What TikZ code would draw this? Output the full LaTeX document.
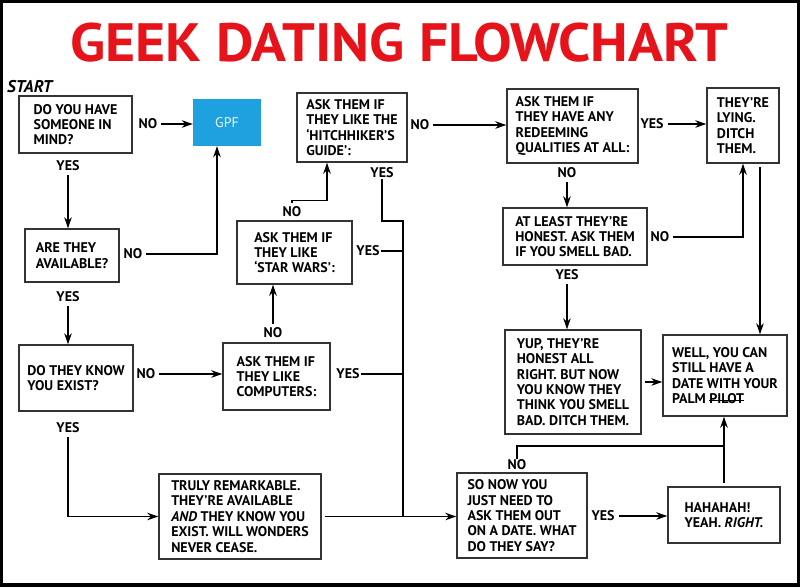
\documentclass[tikz,border=0pt]{standalone}
\usepackage{fontspec}
\setmainfont{PT Sans}
\usetikzlibrary{arrows.meta}

\definecolor{gpfblue}{RGB}{30,161,222}
\definecolor{titlered}{RGB}{230,20,26}

\newcommand\scratched[1]{\setbox0\hbox{#1}\rlap{\rule[0.35ex]{\wd0}{1.2pt}}\box0}

\tikzset{
  box/.style={draw=black!80, line width=1.4pt, fill=white, align=left,
    font=\bfseries\fontsize{14}{15.4}\selectfont, inner xsep=4pt, inner ysep=5pt},
  lbl/.style={font=\bfseries\fontsize{14}{15.4}\selectfont, inner sep=1pt},
  arr/.style={-{Stealth[length=11pt,width=7.5pt]}, line width=1.3pt, shorten <=3pt},
  link/.style={line width=1.3pt}
}

\begin{document}
\begin{tikzpicture}[x=1pt,y=-1pt]

\fill[black] (0,0) rectangle (800,587);
\fill[white] (3,3) rectangle (797,583);
\useasboundingbox (0,0) rectangle (800,587);

\node[text=titlered, font=\bfseries\fontsize{54}{54}\selectfont, xscale=1.07, transform shape] (title) at (399,43) {GEEK DATING FLOWCHART};
\node[anchor=west, font=\bfseries\itshape\fontsize{17}{17}\selectfont, inner sep=0pt] (start) at (7,87) {START};

% left column
\node[box, minimum width=113, minimum height=57] (have) at (75.5,124.5) {DO YOU HAVE\\SOMEONE IN\\MIND?};
\node[fill=gpfblue, minimum width=68, minimum height=47, text=white!90!gpfblue, font=\fontsize{14}{14}\selectfont] (gpf) at (227,122.5) {GPF};
\node[box, minimum width=94, minimum height=53] (avail) at (72,255.5) {ARE THEY\\AVAILABLE?};
\node[box, minimum width=114, minimum height=66] (exist) at (76,378) {DO THEY KNOW\\YOU EXIST?};
\node[box, minimum width=162, minimum height=85] (truly) at (240,516.5) {TRULY REMARKABLE.\\THEY’RE AVAILABLE\\\textit{AND} THEY KNOW YOU\\EXIST. WILL WONDERS\\NEVER CEASE.};

% middle column
\node[box, minimum width=107, minimum height=67] (comp) at (276.5,376.5) {ASK THEM IF\\THEY LIKE\\COMPUTERS:};
\node[box, minimum width=115, minimum height=63] (star) at (294.5,252.5) {ASK THEM IF\\THEY LIKE\\‘STAR WARS’:};
\node[box, minimum width=110, minimum height=69] (hitch) at (352,127.5) {ASK THEM IF\\THEY LIKE THE\\‘HITCHHIKER’S\\GUIDE’:};

% right columns
\node[box, minimum width=131, minimum height=74] (redeem) at (572.5,126) {ASK THEM IF\\THEY HAVE ANY\\REDEEMING\\QUALITIES AT ALL:};
\node[box, minimum width=72, minimum height=75] (lying) at (743,125.5) {THEY’RE\\LYING.\\DITCH\\THEM.};
\node[box, minimum width=144, minimum height=57] (honest) at (575,236.5) {AT LEAST THEY’RE\\HONEST. ASK THEM\\IF YOU SMELL BAD.};
\node[box, minimum width=136, minimum height=104] (yup) at (573,382) {YUP, THEY’RE\\HONEST ALL\\RIGHT. BUT NOW\\YOU KNOW THEY\\THINK YOU SMELL\\BAD. DITCH THEM.};
\node[box, minimum width=124, minimum height=81] (palm) at (725,375.5) {WELL, YOU CAN\\STILL HAVE A\\DATE WITH YOUR\\PALM \scratched{PILOT}};
\node[box, minimum width=130, minimum height=85] (askout) at (522,515.5) {SO NOW YOU\\JUST NEED TO\\ASK THEM OUT\\ON A DATE. WHAT\\DO THEY SAY?};
\node[box, minimum width=112, minimum height=56] (haha) at (724,515) {HAHAHAH!\\YEAH. \textit{RIGHT.}};

% labels
\node[lbl] (no1) at (148,124) {NO};
\node[lbl] (yes1) at (68,166) {YES};
\node[lbl] (no2) at (133,254) {NO};
\node[lbl] (yes2) at (68,297) {YES};
\node[lbl] (no3) at (146,374) {NO};
\node[lbl] (yes3) at (68,428) {YES};
\node[lbl] (no4) at (273,333) {NO};
\node[lbl] (yes4) at (348,374) {YES};
\node[lbl] (no5) at (292,212) {NO};
\node[lbl] (yes5) at (368,251) {YES};
\node[lbl] (yes6) at (382,173) {YES};
\node[lbl] (no6) at (420,125) {NO};
\node[lbl] (yes7) at (652,124) {YES};
\node[lbl] (no7) at (567,173) {NO};
\node[lbl] (no9) at (660,237) {NO};
\node[lbl] (yes9) at (567,275) {YES};
\node[lbl] (no12) at (517,465) {NO};
\node[lbl] (yes12) at (603,516) {YES};

\coordinate (bend) at (403,221);
\coordinate (merge) at (403,516.5);

% connectors
\draw[arr] (no1.east) -- (no1.east -| gpf.west);
\draw[arr] (yes1.south) -- (yes1.south |- avail.north);
\draw[arr] (no2.east) -| ([xshift=-10pt]gpf.south);
\draw[arr] (yes2.south) -- (yes2.south |- exist.north);
\draw[arr] (no3.east) -- (no3.east -| comp.west);
\draw[arr] (yes3.south) |- (truly.west);
\draw[arr] (no4.north) -- (no4.north |- star.south);
\draw[arr] (no5.north) -- ++(0,-5) -| ([xshift=-25pt]hitch.south);
\draw[link] (yes6.south) |- (bend) -- (merge);
\draw[link] (yes5.east) -- (yes5.east -| merge);
\draw[link] (yes4.east) -- (yes4.east -| merge);
\draw[arr] (truly.east) -- (askout.west |- truly.east);
\draw[arr] (no6.east) -- (no6.east -| redeem.west);
\draw[arr] (yes7.east) -- (yes7.east -| lying.west);
\draw[arr] (no7.south) -- (no7.south |- honest.north);
\draw[arr] ([xshift=17pt]lying.south) -- ([xshift=17pt]lying.south |- palm.north);
\draw[arr] (no9.east) -| (lying.south);
\draw[arr] (yes9.south) -- (yes9.south |- yup.north);
\draw[arr] (yup.east) -- (palm.west |- yup.east);
\draw[arr] (yes12.east) -- (yes12.east -| haha.west);
\draw[arr] (haha.north) -- (haha.north |- palm.south);
\draw[link] (no12.north) |- (haha.north |- 0,446);

\end{tikzpicture}
\end{document}
